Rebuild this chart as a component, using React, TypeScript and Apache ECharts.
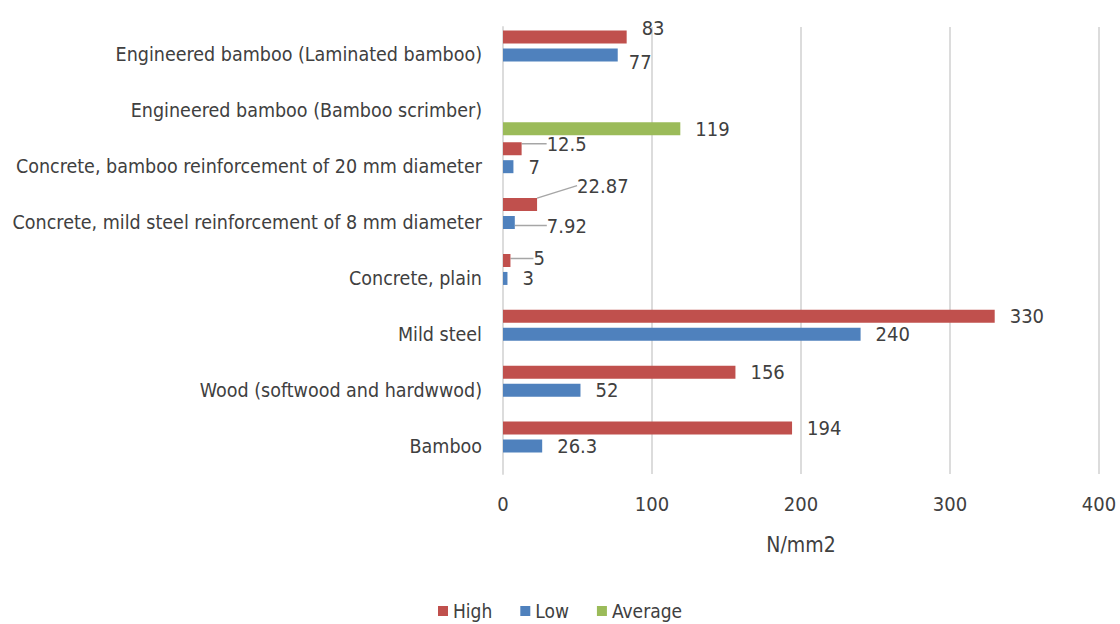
import React, { useEffect, useRef } from "react";
import * as echarts from "echarts";

// Material categories, listed top to bottom
const categories = [
  "Engineered bamboo (Laminated bamboo)",
  "Engineered bamboo (Bamboo scrimber)",
  "Concrete, bamboo reinforcement of 20 mm diameter",
  "Concrete, mild steel reinforcement of 8 mm diameter",
  "Concrete, plain",
  "Mild steel",
  "Wood (softwood and hardwwod)",
  "Bamboo",
];

// Strength values in N/mm2
const highValues = [83, null, 12.5, 22.87, 5, 330, 156, 194];
const lowValues = [77, null, 7, 7.92, 3, 240, 52, 26.3];
const averageValues = [null, 119, null, null, null, null, null, null];

const xTicks = { min: 0, max: 400, interval: 100 };

const FONT = "'Liberation Sans Narrow', 'Arial Narrow', 'DejaVu Sans Condensed', sans-serif";
const TEXT = "#404040";

// Manual nudges for labels that would otherwise crowd each other:
// "series-dataIndex" -> [dx, dy, draw a guide line]
const labelNudges: Record<string, [number, number, boolean]> = {
  "0-0": [0, -9, false],
  "1-0": [-4, 7, false],
  "0-2": [10, -5, true],
  "0-3": [25, -19, true],
  "1-3": [17, 3, true],
  "0-4": [8, -2, true],
};

export default function App() {
  const ref = useRef<HTMLDivElement>(null);

  useEffect(() => {
    if (!ref.current) return;
    const chart = echarts.init(ref.current, null, { renderer: "svg" });

    const makeSeries = (idx: number, name: string, values: (number | null)[], color: string) => ({
      name,
      type: "bar",
      data: values.map((v, i) => {
        const n = labelNudges[`${idx}-${i}`];
        return n && n[2] ? { value: v, labelLine: { show: true } } : v;
      }),
      barWidth: 13,
      barGap: "38%",
      itemStyle: { color },
      label: {
        show: true,
        position: "right",
        distance: 15,
        color: TEXT,
        fontFamily: FONT,
        fontSize: 20,
      },
      labelLine: { show: false, lineStyle: { color: "#a6a6a6", width: 1.5 } },
      labelLayout: (params: any) => {
        const n = labelNudges[`${params.seriesIndex}-${params.dataIndex}`];
        if (!n) return {};
        return { dx: n[0], dy: n[1] };
      },
    });

    chart.setOption({
      animation: false,
      backgroundColor: "#ffffff",
      textStyle: { fontFamily: FONT, color: TEXT },
      grid: { left: 503, right: 21, top: 27, bottom: 150, containLabel: false },
      legend: {
        data: ["High", "Low", "Average"],
        left: "center",
        top: 596,
        icon: "rect",
        itemWidth: 10,
        itemHeight: 10,
        itemGap: 28,
        textStyle: { fontFamily: FONT, fontSize: 19, lineHeight: 20, color: TEXT },
      },
      xAxis: {
        type: "value",
        min: xTicks.min,
        max: xTicks.max,
        interval: xTicks.interval,
        name: "N/mm2",
        nameLocation: "middle",
        nameGap: 60,
        nameTextStyle: { fontFamily: FONT, fontSize: 21, color: TEXT },
        axisLine: { show: false },
        axisTick: { show: false },
        axisLabel: { margin: 20, fontFamily: FONT, fontSize: 20, color: TEXT },
        splitLine: { show: true, lineStyle: { color: "#dcdcdc", width: 2 } },
      },
      yAxis: {
        type: "category",
        data: categories,
        inverse: true,
        axisLine: { show: true, lineStyle: { color: "#dcdcdc", width: 2 } },
        axisTick: { show: false },
        axisLabel: { margin: 21, fontFamily: FONT, fontSize: 19.5, color: TEXT },
      },
      series: [
        makeSeries(0, "High", highValues, "#C0504D"),
        makeSeries(1, "Low", lowValues, "#4F81BD"),
        makeSeries(2, "Average", averageValues, "#9BBB59"),
      ],
    });

    return () => chart.dispose();
  }, []);

  return (
    <div
      ref={ref}
      style={{ position: "fixed", left: 0, top: 0, width: 1120, height: 624, background: "#fff" }}
    />
  );
}
